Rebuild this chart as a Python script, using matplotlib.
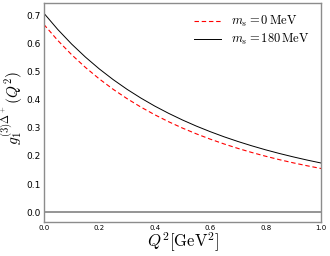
import matplotlib
matplotlib.use("Agg")
import matplotlib.pyplot as plt

plt.rcParams['mathtext.fontset'] = 'cm'

# Data
q2 = [0.00, 0.05, 0.10, 0.15, 0.20, 0.25, 0.30, 0.35, 0.40, 0.45, 0.50,
      0.55, 0.60, 0.65, 0.70, 0.75, 0.80, 0.85, 0.90, 0.95, 1.00]
g_ms0 = [0.668, 0.6112, 0.5604, 0.5149, 0.4740, 0.4371, 0.4039, 0.3738,
         0.3465, 0.3217, 0.2991, 0.2786, 0.2598, 0.2426, 0.2268, 0.2123,
         0.1989, 0.1866, 0.1753, 0.1649, 0.1552]
g_ms180 = [0.708, 0.6502, 0.5983, 0.5517, 0.5096, 0.4716, 0.4371, 0.4059,
           0.3774, 0.3516, 0.3279, 0.3062, 0.2864, 0.2681, 0.2514, 0.2360,
           0.2217, 0.2086, 0.1965, 0.1852, 0.1748]

fig = plt.figure(figsize=(3.3, 2.56), dpi=100)
ax = fig.add_axes([0.133, 0.133, 0.840, 0.856])

ax.axhline(0, color='#8c8c8c', lw=1.3)
ax.plot(q2, g_ms0, color='red', ls='--', lw=0.8, dashes=(4, 2.5),
        label=r'$m_s=0\,\mathrm{MeV}$')
ax.plot(q2, g_ms180, color='black', lw=0.7,
        label=r'$m_s=180\,\mathrm{MeV}$')

ax.set_xlim(0, 1)
ax.set_ylim(-0.035, 0.745)
ax.set_xticks([0, 0.2, 0.4, 0.6, 0.8, 1.0])
ax.set_yticks([0, 0.1, 0.2, 0.3, 0.4, 0.5, 0.6, 0.7])
ax.tick_params(axis='x', length=0, pad=2.5, labelsize=5)
ax.tick_params(axis='y', length=0, pad=2.5, labelsize=6.5)
for s in ax.spines.values():
    s.set_color('#8c8c8c')
    s.set_linewidth(1.0)

ax.set_xlabel(r'$Q^2[\mathrm{GeV}^2]$', fontsize=12, labelpad=-1)
ax.set_ylabel(r'$g_1^{(3)\Delta^+}(Q^2)$', fontsize=11)
ax.yaxis.set_label_coords(-0.067, 0.52)

ax.legend(loc='upper right', frameon=False, fontsize=9, handlelength=2.2,
          handletextpad=0.8, borderaxespad=0.5, labelspacing=0.25)

plt.savefig('out.png', dpi=100)
plt.close()
